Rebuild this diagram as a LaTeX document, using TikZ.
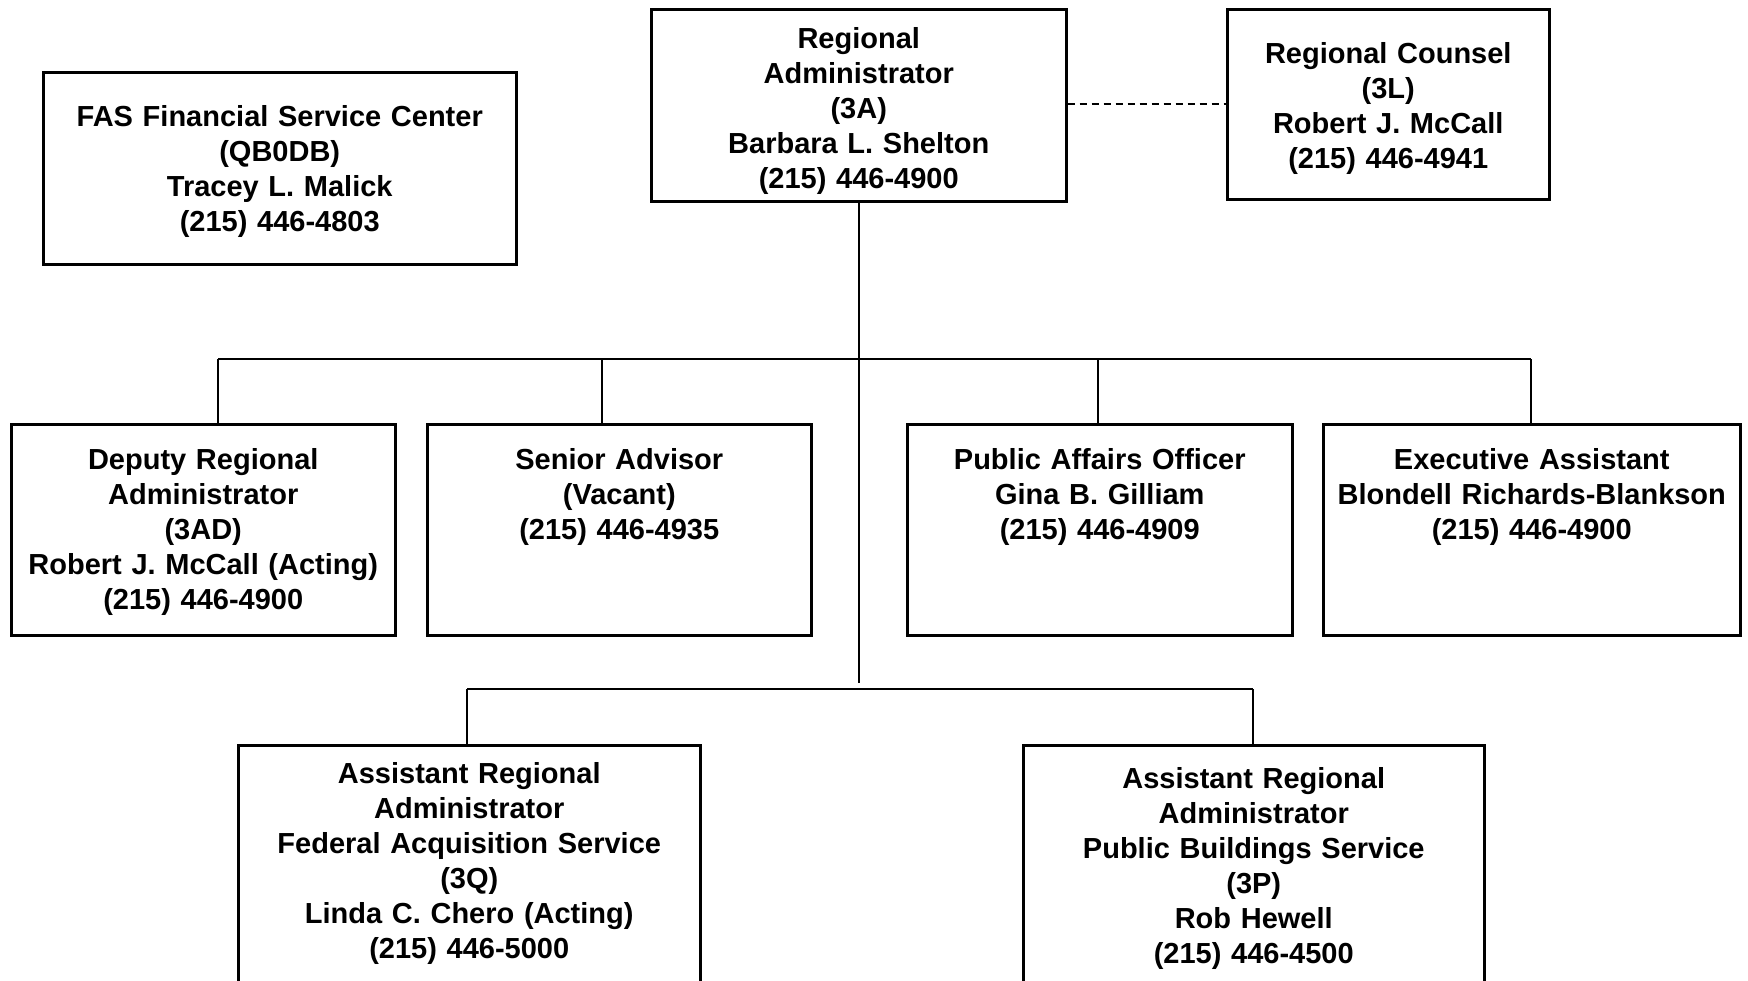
\documentclass[tikz,border=0pt]{standalone}
\usepackage{fontspec}
\setmainfont{Liberation Sans}
\usepackage{tikz}

\tikzset{
  box/.style={draw, line width=2.5pt, inner sep=0pt, align=center, anchor=north west,
    font=\bfseries\fontsize{29}{35}\selectfont},
  rowbox/.style={box, text height=45.5pt, text depth=165.5pt},
  link/.style={line width=2.2pt},
}

\begin{document}
\begin{tikzpicture}[x=1pt,y=-1pt]
  \clip (0,0) rectangle (1748,980);

  % Leitung
  \node[box, text width=415pt, text height=39.5pt, text depth=152.5pt] (ra) at (650,8)
    {Regional\\Administrator\\(3A)\\Barbara L. Shelton\\(215) 446-4900};
  \node[box, text width=322pt, text height=54.5pt, text depth=135.5pt] (rc) at (1226,8)
    {Regional Counsel\\(3L)\\Robert J. McCall\\(215) 446-4941};
  \node[box, text width=473pt, text height=54.5pt, text depth=137.5pt] (fas) at (42,71)
    {FAS Financial Service Center\\(QB0DB)\\Tracey L. Malick\\(215) 446-4803};

  % Stab
  \node[rowbox, text width=384pt] (dep) at (10,423)
    {Deputy Regional\\Administrator\\(3AD)\\Robert J. McCall (Acting)\\(215) 446-4900};
  \node[rowbox, text width=384pt] (sen) at (426,423)
    {Senior Advisor\\(Vacant)\\(215) 446-4935};
  \node[rowbox, text width=385pt] (pao) at (906,423)
    {Public Affairs Officer\\Gina B. Gilliam\\(215) 446-4909};
  \node[rowbox, text width=417pt] (exa) at (1322,423)
    {Executive Assistant\\Blondell Richards-Blankson\\(215) 446-4900};

  % Dienste
  \node[box, text width=462pt, text height=38.5pt, text depth=217.5pt] (araq) at (237,744)
    {Assistant Regional\\Administrator\\Federal Acquisition Service\\(3Q)\\Linda C. Chero (Acting)\\(215) 446-5000};
  \node[box, text width=461pt, text height=43.5pt, text depth=212.5pt] (arap) at (1022,744)
    {Assistant Regional\\Administrator\\Public Buildings Service\\(3P)\\Rob Hewell\\(215) 446-4500};

  % Linien
  \coordinate (trunk) at (ra.south |- 0,683);
  \coordinate (busw) at (218,359);
  \coordinate (buse) at (1531,359);
  \coordinate (lbusw) at (467,689);
  \coordinate (lbuse) at (1253,689);

  \draw[link, dash pattern=on 7pt off 5pt] (ra.east |- 0,104) -- (rc.west |- 0,104);
  \draw[link] (ra.south) -- (trunk);
  \draw[link] (busw) -- (buse);
  \draw[link] (busw) -- (busw |- dep.north);
  \draw[link] (602,359) -- (602,359 |- sen.north);
  \draw[link] (1098,359) -- (1098,359 |- pao.north);
  \draw[link] (buse) -- (buse |- exa.north);
  \draw[link] (lbusw) -- (lbuse);
  \draw[link] (lbusw) -- (lbusw |- araq.north);
  \draw[link] (lbuse) -- (lbuse |- arap.north);
\end{tikzpicture}
\end{document}
